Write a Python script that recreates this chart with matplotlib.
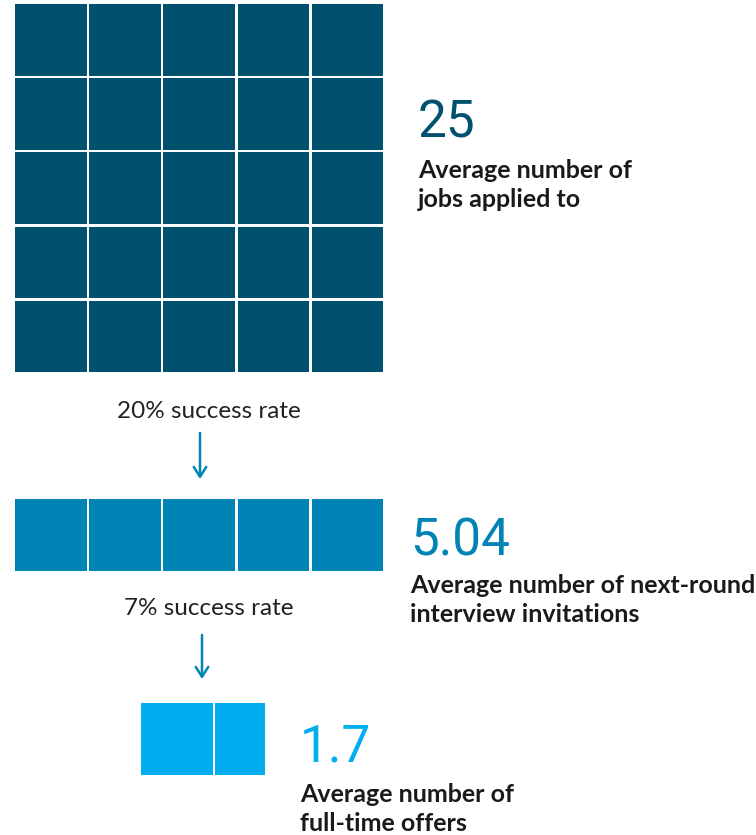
import math

import matplotlib

matplotlib.use("Agg")
import matplotlib.pyplot as plt
from matplotlib.patches import Rectangle

# funnel stages: average count at each step, shown as unit squares
stage_values = [25, 5.04, 1.7]
stage_cols = [5, 5, 5]  # squares per row
stage_colors = ["#00516E", "#0083B5", "#00AEEF"]
stage_labels = [
    ["Average number of", "jobs applied to"],
    ["Average number of next-round", "interview invitations"],
    ["Average number of", "full-time offers"],
]
rate_labels = ["20% success rate", "7% success rate"]

CELL = 74.2  # px per square
GAP = 2.6
LINE = 29  # px between label baselines

W, H = 756, 835
fig = plt.figure(figsize=(W / 100, H / 100), dpi=100)
ax = fig.add_axes([0, 0, 1, 1])
ax.set_xlim(0, W)
ax.set_ylim(H, 0)
ax.axis("off")

# top-left corner of each block, and text anchors (baselines)
block_origin = [(15, 4), (15, 499), (141, 703)]
num_pos = [(418, 138), (410, 555), (300, 762)]
label_base = [178, 593, 802]
rate_pos = [(209, 418), (209, 615)]
arrow_x = [200, 202]
arrow_y = [(433, 479), (635, 679)]


def draw_block(x0, y0, value, cols, color):
    # round to one decimal so tiny remainders (5.04) don't show as slivers
    v = round(value, 1)
    full = int(math.floor(v))
    frac = v - full
    cells = [1.0] * full + ([frac] if frac > 1e-9 else [])
    for i, w in enumerate(cells):
        r, c = divmod(i, cols)
        ax.add_patch(Rectangle((x0 + c * CELL, y0 + r * CELL),
                               w * CELL - GAP, CELL - GAP,
                               facecolor=color, edgecolor="none"))


for i, v in enumerate(stage_values):
    x0, y0 = block_origin[i]
    draw_block(x0, y0, v, stage_cols[i], stage_colors[i])

    nx, ny = num_pos[i]
    ax.text(nx, ny, f"{v:g}", fontsize=37, family="Roboto",
            color=stage_colors[i], va="baseline", ha="left")
    for k, line in enumerate(stage_labels[i]):
        ax.text(nx, label_base[i] + k * LINE, line, fontsize=18, family="Lato",
                fontweight="bold", color="#1a1a1a", va="baseline", ha="left")

for i, lab in enumerate(rate_labels):
    rx, ry = rate_pos[i]
    ax.text(rx, ry, lab, fontsize=17.5, family="Lato", color="#222222",
            va="baseline", ha="center")
    y1, y2 = arrow_y[i]
    ax.annotate("", xy=(arrow_x[i], y2), xytext=(arrow_x[i], y1),
                arrowprops=dict(arrowstyle="->,head_length=0.7,head_width=0.45",
                                color=stage_colors[1], lw=1.8,
                                shrinkA=0, shrinkB=0))

fig.savefig("out.png", dpi=100, facecolor="white")
